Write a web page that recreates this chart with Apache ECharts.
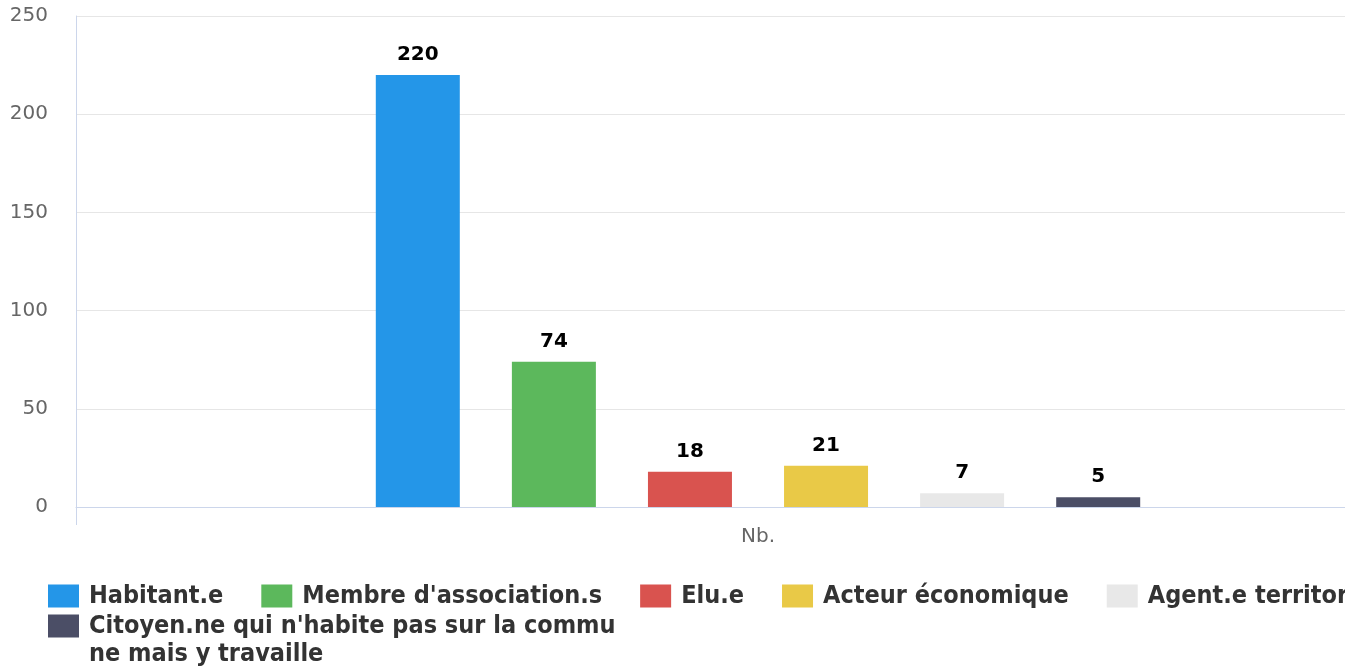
<!DOCTYPE html>
<html>
<head>
<meta charset="utf-8">
<script src="https://cdn.jsdelivr.net/npm/echarts@6/dist/echarts.min.js"></script>
<style>
html,body{margin:0;padding:0;background:#fff;overflow:hidden;}
#chart{width:1440px;height:667px;}
</style>
</head>
<body>
<div id="chart"></div>
<script>
const categories = ["Nb."];
const seriesNames = [
  "Habitant.e",
  "Membre d'association.s",
  "Elu.e",
  "Acteur économique",
  "Agent.e territorial.e",
  "Citoyen.ne qui n'habite pas sur la commune mais y travaille"
];
const seriesValues = [220, 74, 18, 21, 7, 5];
const seriesColors = ["#2496e8", "#5cb85c", "#d9534f", "#e9c947", "#e8e8e8", "#4b4e66"];
const yTicks = [0, 50, 100, 150, 200, 250];

const FONT = "DejaVu Sans";
const LEGEND_FONT = "DejaVu Sans Condensed";
const chart = echarts.init(document.getElementById('chart'), null, {renderer: 'canvas'});

const series = seriesNames.map((name, i) => ({
  name: name,
  type: 'bar',
  data: [seriesValues[i]],
  barWidth: 84,
  barGap: '62%',
  itemStyle: {color: seriesColors[i]},
  label: {
    show: true,
    position: 'top',
    distance: 10,
    color: '#000',
    fontFamily: FONT,
    fontWeight: 'bold',
    fontSize: 20,
    textBorderColor: '#fff',
    textBorderWidth: 3
  }
}));

// square swatch plus invisible extent (gap to text / alignment with first text line)
const ICON_ROW = 'path://M0,0h31v23h-31z M36,23 L36,23';
const ICON_TALL = 'path://M0,0h31v23h-31z M36,51 L36,51';

chart.setOption({
  animation: false,
  backgroundColor: '#fff',
  grid: {left: 76, top: 16, bottom: 160, right: 0, containLabel: false},
  legend: [
    {
      data: seriesNames.slice(0, 5),
      orient: 'horizontal',
      left: 48,
      top: 582,
      padding: 0,
      itemGap: 38,
      itemWidth: 36,
      itemHeight: 23,
      icon: ICON_ROW,
      textStyle: {fontFamily: LEGEND_FONT, fontWeight: 'bold', fontSize: 25, color: '#333', lineHeight: 28}
    },
    {
      data: seriesNames.slice(5),
      orient: 'horizontal',
      left: 48,
      top: 612,
      padding: 0,
      itemWidth: 36,
      itemHeight: 51,
      icon: ICON_TALL,
      textStyle: {fontFamily: LEGEND_FONT, fontWeight: 'bold', fontSize: 25, color: '#333',
        width: 534, overflow: 'breakAll', lineHeight: 28}
    }
  ],
  xAxis: {
    type: 'category',
    data: categories,
    axisLine: {show: true, lineStyle: {color: '#ccd6eb', width: 1}},
    axisTick: {show: true, length: 18, lineStyle: {color: '#ccd6eb'}},
    axisLabel: {fontFamily: FONT, fontSize: 20, color: '#666', margin: 20}
  },
  yAxis: {
    type: 'value',
    min: yTicks[0],
    max: yTicks[yTicks.length - 1],
    interval: 50,
    axisLine: {show: true, lineStyle: {color: '#ccd6eb', width: 1}},
    axisTick: {show: false},
    axisLabel: {fontFamily: FONT, fontSize: 20, color: '#666', margin: 28},
    splitLine: {show: true, lineStyle: {color: '#e6e6e6', width: 1}}
  },
  series: series
});
</script>
</body>
</html>
